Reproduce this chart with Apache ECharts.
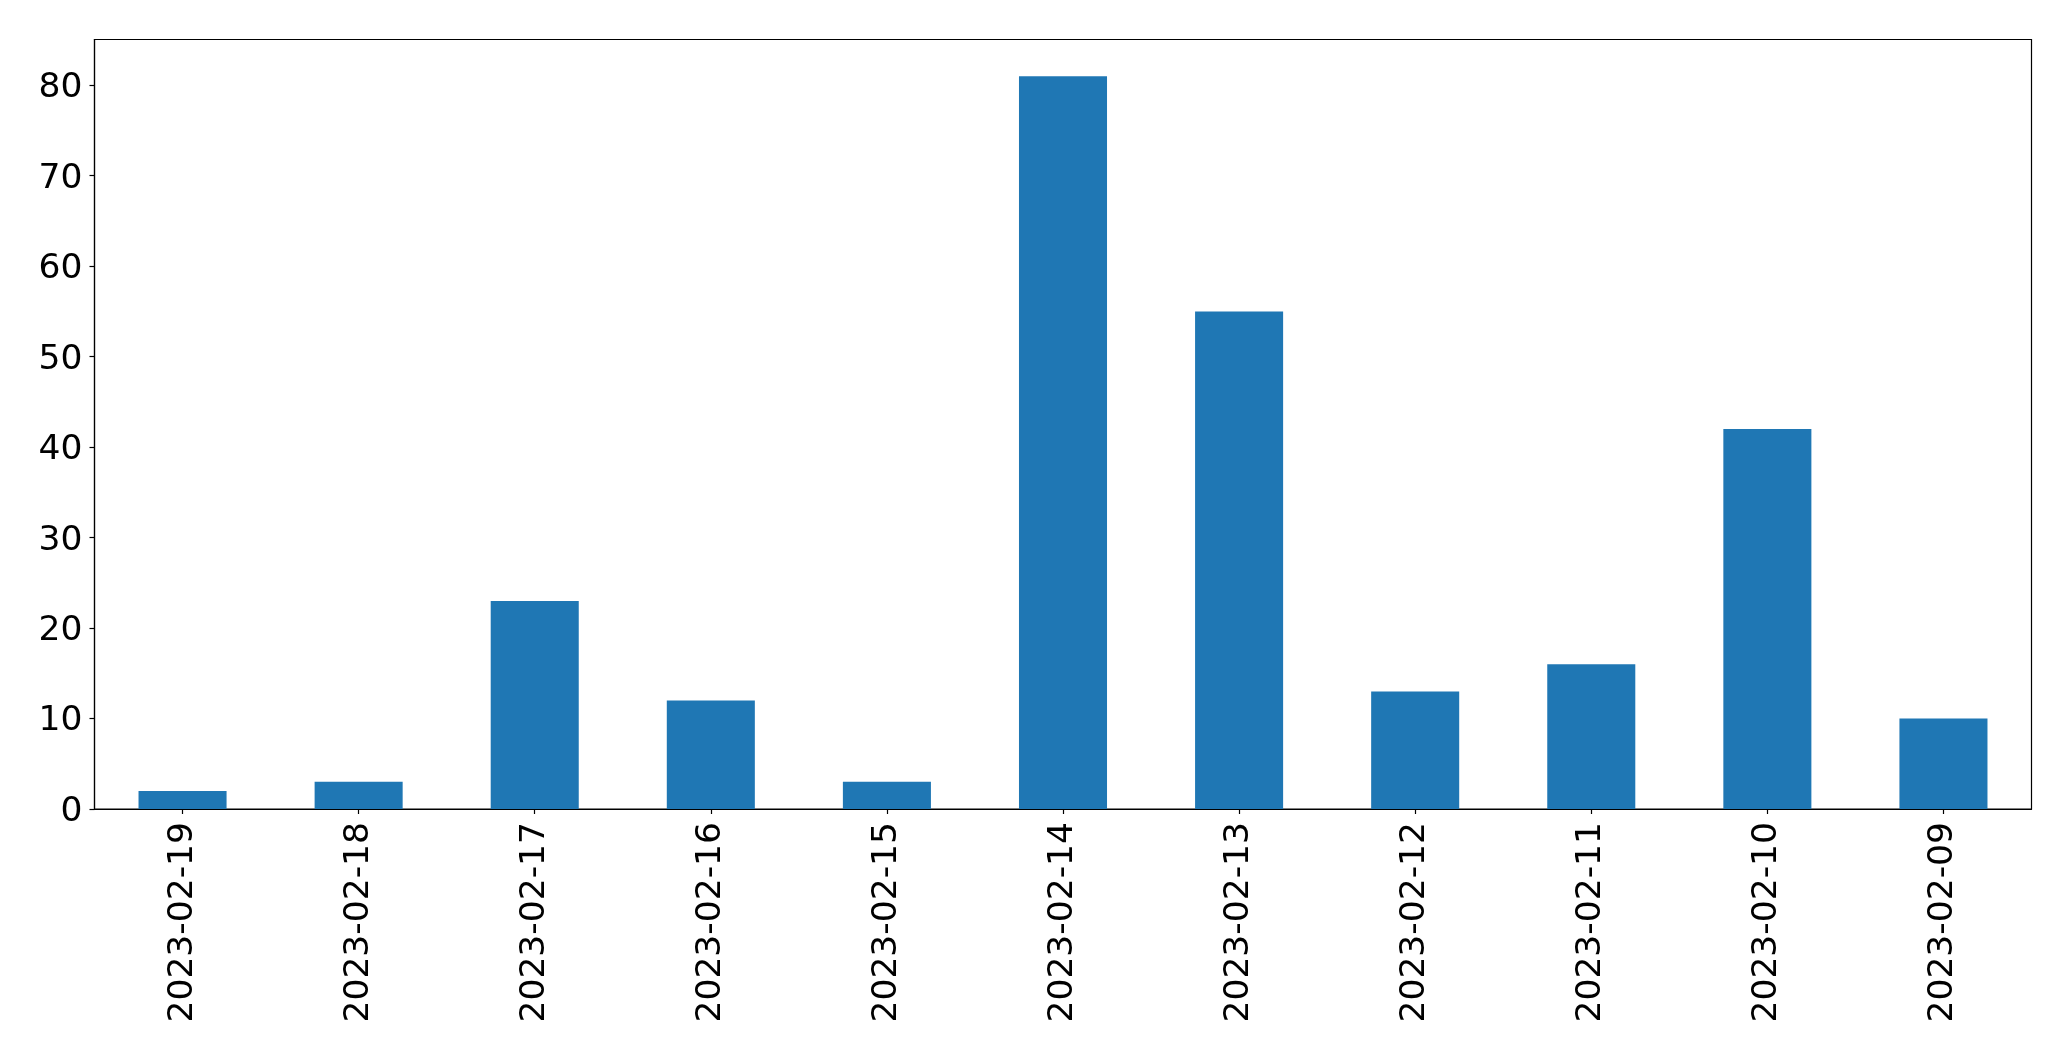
<!DOCTYPE html>
<html>
<head>
<meta charset="utf-8">
<script src="https://cdn.jsdelivr.net/npm/echarts@6/dist/echarts.min.js"></script>
<style>html,body{margin:0;padding:0;background:#fff}#c{width:2071px;height:1061px}</style>
</head>
<body>
<div id="c"></div>
<script>
const categories = ['2023-02-19','2023-02-18','2023-02-17','2023-02-16','2023-02-15','2023-02-14','2023-02-13','2023-02-12','2023-02-11','2023-02-10','2023-02-09'];
const values = [2, 3, 23, 12, 3, 81, 55, 13, 16, 42, 10];
const yMax = 85.05;

const chart = echarts.init(document.getElementById('c'), null, {renderer: 'canvas'});
const font = 'DejaVu Sans';
chart.setOption({
  animation: false,
  backgroundColor: '#fff',
  grid: {left: 94.5, right: 39.5, top: 39.5, bottom: 252, show: true, borderColor: '#000', borderWidth: 1.2, backgroundColor: 'transparent'},
  xAxis: {
    type: 'category', data: categories, boundaryGap: true,
    axisLine: {show: true, lineStyle: {color: '#000', width: 1.2}},
    axisTick: {show: true, alignWithLabel: true, length: 5, lineStyle: {color: '#000', width: 1.2}},
    axisLabel: {rotate: 90, margin: 13, fontSize: 34.5, fontFamily: font, color: '#000', interval: 0},
    splitLine: {show: false}
  },
  yAxis: {
    type: 'value', min: 0, max: yMax, interval: 10,
    axisLine: {show: true, lineStyle: {color: '#000', width: 1.2}},
    axisTick: {show: true, length: 5, lineStyle: {color: '#000', width: 1.2}},
    axisLabel: {
      margin: 12, fontSize: 34.5, fontFamily: font, color: '#000', showMaxLabel: false,
      formatter: '{a|{value}}',
      rich: {a: {fontSize: 34.5, fontFamily: font, color: '#000', padding: [6, 0, 0, 0]}}
    },
    splitLine: {show: false}
  },
  series: [{type: 'bar', data: values, barWidth: '50%', itemStyle: {color: '#1f77b4'}}]
});
</script>
</body>
</html>
